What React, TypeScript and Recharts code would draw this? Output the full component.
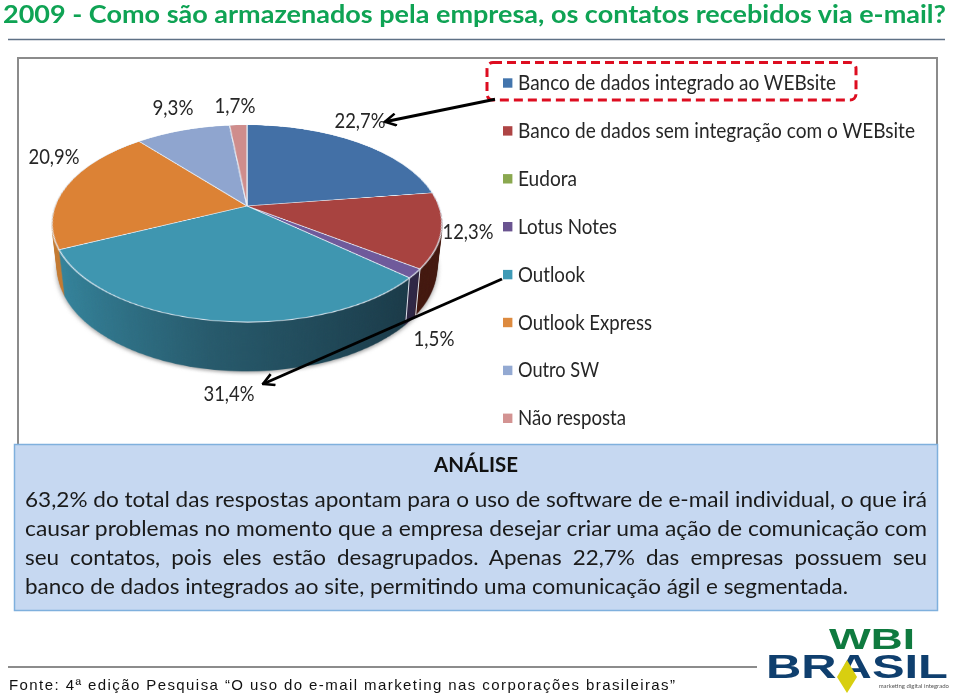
import { PieChart, Pie, Cell } from "recharts";

const CATEGORIES = [
  "Banco de dados integrado ao WEBsite",
  "Banco de dados sem integração com o WEBsite",
  "Eudora",
  "Lotus Notes",
  "Outlook",
  "Outlook Express",
  "Outro SW",
  "Não resposta",
];
const VALUES = [22.7, 12.3, 0, 1.5, 31.4, 20.9, 9.3, 1.7];
const TOP_COLORS = ["#4370a6", "#a84340", "#8aa64a", "#6f5a9b", "#3f96b0", "#dc8235", "#8fa5cf", "#cf8d8c"];
const SIDE_COLORS = ["#2b4a70", "#43180f", "#5a6e30", "#2f2745", "url(#sideOutlook)", "#c47a32", "#62739a", "#8f5f5e"];
const LEGEND_COLORS = ["#4375ad", "#ae4444", "#8aa84f", "#6a5490", "#3e9ab6", "#dd8a3f", "#93a9d2", "#d39392"];
const LEGEND_WIDTHS = [318, 397, 59, 99, 67, 134, 81, 108];

const LABEL_SPOTS: Record<string, [number, number]> = {
  "Banco de dados integrado ao WEBsite": [360, 128],
  "Banco de dados sem integração com o WEBsite": [468, 239],
  "Lotus Notes": [434, 346],
  Outlook: [229, 401],
  "Outlook Express": [54, 164],
  "Outro SW": [173, 115],
  "Não resposta": [235, 113],
};

const ANALYSIS_LINES = [
  "63,2% do total das respostas apontam para o uso de software de e-mail individual, o que irá",
  "causar problemas no momento que a empresa desejar criar uma ação de comunicação com",
  "seu contatos, pois eles estão desagrupados. Apenas 22,7% das empresas possuem seu",
  "banco de dados integrados ao site, permitindo uma comunicação ágil e segmentada.",
];
const ANALYSIS_WIDTHS = [902, 902, 902, 823];
const ANALYSIS_BASELINES = [507, 536, 565, 594];
const ANALYSIS_WORD_GAPS = [0, 0, 5, 0];

const pieData = CATEGORIES.map((name, i) => ({ name, value: VALUES[i] }));

const SANS = "Lato, 'Open Sans', sans-serif";
const LOGO = "'Liberation Sans', sans-serif";
const SIZE = 400;
const RADIUS = 192;
const DEPTH = 52;
const TILT = "perspective(938px) rotateX(60.2deg)";

function Disc({ colors, lift, stroke }: { colors: string[]; lift: number; stroke?: string }) {
  return (
    <div
      style={{
        position: "absolute",
        left: 247 - SIZE / 2,
        top: 205.7 - SIZE / 2,
        width: SIZE,
        height: SIZE,
        transform: `${TILT} translateZ(${lift}px)`,
      }}
    >
      <PieChart width={SIZE} height={SIZE} margin={{ top: 0, right: 0, bottom: 0, left: 0 }}>
        <Pie
          data={pieData}
          dataKey="value"
          cx={SIZE / 2}
          cy={SIZE / 2}
          outerRadius={RADIUS}
          startAngle={90}
          endAngle={-270}
          stroke={stroke ?? "none"}
          strokeWidth={stroke ? 1.2 : 0}
          isAnimationActive={false}
          labelLine={false}
        >
          {pieData.map((d, i) => (
            <Cell key={d.name} fill={colors[i]} />
          ))}
        </Pie>
      </PieChart>
    </div>
  );
}

export default function App() {
  const layers: number[] = [];
  for (let z = DEPTH; z > 0; z--) layers.push(-z);

  return (
    <div style={{ position: "absolute", left: 0, top: 0, width: 960, height: 697, overflow: "hidden", background: "#fff" }}>
      {/* chart frame */}
      <div style={{ position: "absolute", left: 17, top: 57, width: 917, height: 388, border: "2px solid #8b8b8b", background: "#fff" }} />

      <svg width={0} height={0} style={{ position: "absolute" }}>
        <defs>
          <linearGradient id="sideOutlook" x1="0" y1="0" x2="1" y2="0">
            <stop offset="0%" stopColor="#34839b" />
            <stop offset="45%" stopColor="#275a6c" />
            <stop offset="100%" stopColor="#1a3a48" />
          </linearGradient>
        </defs>
      </svg>

      {/* soft shadow under the pie */}
      <div
        style={{
          position: "absolute",
          left: 247 - RADIUS - 1,
          top: 205.7 - RADIUS - 1,
          width: RADIUS * 2 + 2,
          height: RADIUS * 2 + 2,
          borderRadius: "50%",
          background: "#a8a8a8",
          filter: "blur(2px)",
          transform: `${TILT} translateZ(${-DEPTH - 1}px)`,
        }}
      />
      {layers.map((z) => (
        <Disc key={z} colors={SIDE_COLORS} lift={z} />
      ))}
      <Disc colors={TOP_COLORS} lift={0} stroke="#e6edf5" />

      <svg width={960} height={697} style={{ position: "absolute", left: 0, top: 0 }}>
        <defs>
          <marker id="openHead" markerWidth="14" markerHeight="14" refX="12.5" refY="7" orient="auto" markerUnits="userSpaceOnUse" viewBox="0 0 14 14">
            <path d="M1.5 1 L12.5 7 L1.5 13" fill="none" stroke="#000" strokeWidth="2.6" />
          </marker>
        </defs>

        {/* title */}
        <text x={3} y={23} fill="#0fa354" fontFamily={SANS} fontWeight={700} fontSize={24} textLength={943} lengthAdjust="spacingAndGlyphs">
          2009 - Como são armazenados pela empresa, os contatos recebidos via e-mail?
        </text>
        <line x1={8} y1={39.5} x2={945} y2={39.5} stroke="#5f7186" strokeWidth={1.5} />

        {/* wall edges */}
        <line x1={409.3} y1={278.3} x2={406} y2={320} stroke="#dfe6ee" strokeWidth={1} />
        <line x1={420} y1={269.3} x2={415.7} y2={315} stroke="#dfe6ee" strokeWidth={1} />

        {/* value labels */}
        {pieData.filter((d) => LABEL_SPOTS[d.name]).map((d) => {
          const text = `${d.value.toFixed(1).replace(".", ",")}%`;
          return (
            <text key={d.name} x={LABEL_SPOTS[d.name][0]} y={LABEL_SPOTS[d.name][1]} textAnchor="middle" fill="#262626" fontFamily={SANS} fontSize={20.5} textLength={text.length > 4 ? 51 : 41} lengthAdjust="spacingAndGlyphs">
              {text}
            </text>
          );
        })}

        {/* legend */}
        {CATEGORIES.map((name, i) => {
          const y = 83 + i * 47.9;
          return (
            <g key={name}>
              <rect x={503} y={y - 4.7} width={9.4} height={9.4} fill={LEGEND_COLORS[i]} />
              <text x={518} y={y + 7} fill="#262626" fontFamily={SANS} fontSize={20.5} textLength={LEGEND_WIDTHS[i]} lengthAdjust="spacingAndGlyphs">
                {name}
              </text>
            </g>
          );
        })}

        {/* callouts */}
        <rect x={487} y={62.5} width={369} height={37.5} rx={6} fill="none" stroke="#dd0d20" strokeWidth={3} strokeDasharray="9 5" />
        <line x1={495} y1={99.3} x2={385} y2={121.7} stroke="#000" strokeWidth={3} markerEnd="url(#openHead)" />
        <line x1={502} y1={279} x2={263} y2={384} stroke="#000" strokeWidth={3} markerEnd="url(#openHead)" />

        {/* analysis box */}
        <rect x={14.5} y={444.5} width={923} height={166} fill="#c6d8f1" stroke="#7fb0dd" strokeWidth={1.5} />
        <text x={476} y={472} textAnchor="middle" fill="#111" fontFamily={SANS} fontWeight={700} fontSize={20} textLength={84} lengthAdjust="spacingAndGlyphs">
          ANÁLISE
        </text>
        {ANALYSIS_LINES.map((line, i) => (
          <text key={i} x={25} y={ANALYSIS_BASELINES[i]} fill="#1a1a1a" fontFamily={SANS} fontSize={21} wordSpacing={ANALYSIS_WORD_GAPS[i]} textLength={ANALYSIS_WIDTHS[i]} lengthAdjust="spacingAndGlyphs">
            {line}
          </text>
        ))}

        {/* footer */}
        <line x1={8} y1={667} x2={757} y2={667} stroke="#666" strokeWidth={1.5} />
        <text x={9} y={690} fill="#111" fontFamily={LOGO} fontSize={15} textLength={666}>
          Fonte: 4ª edição Pesquisa “O uso do e-mail marketing nas corporações brasileiras”
        </text>

        {/* logo */}
        <text x={829} y={649} fill="#0f7a3f" fontFamily={LOGO} fontWeight={700} fontSize={30} textLength={86} lengthAdjust="spacingAndGlyphs">
          WBI
        </text>
        <text x={766} y={678} fill="#0f3f6e" fontFamily={LOGO} fontWeight={700} fontSize={33} textLength={182} lengthAdjust="spacingAndGlyphs">
          BRASIL
        </text>
        <polygon points="847,660 857,677 847,693 837,677" fill="#d8cf10" />
        <text x={949} y={688} textAnchor="end" fill="#555" fontFamily={SANS} fontSize={6}>
          marketing digital integrado
        </text>
      </svg>
    </div>
  );
}
